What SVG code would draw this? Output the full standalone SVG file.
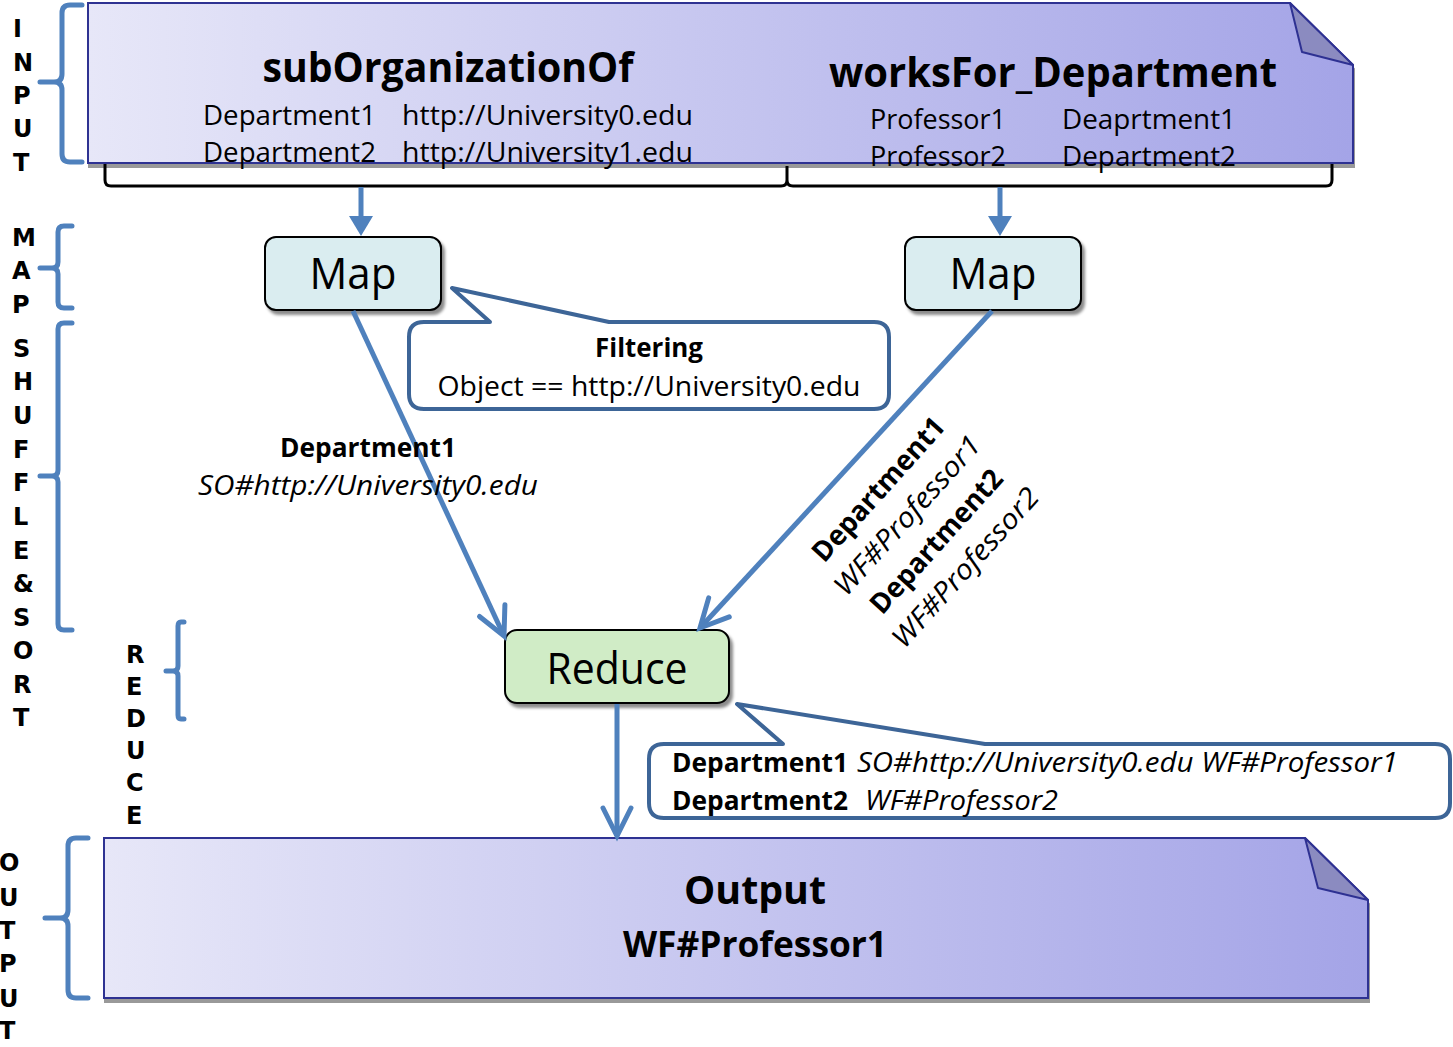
<svg xmlns="http://www.w3.org/2000/svg" width="1453" height="1047" viewBox="0 0 1453 1047">
  <defs>
    <linearGradient id="docFill" x1="0" y1="0" x2="1" y2="0">
      <stop offset="0" stop-color="#e7e7f8"/>
      <stop offset="1" stop-color="#a4a4e7"/>
    </linearGradient>
    <filter id="docShadow" x="-5%" y="-5%" width="110%" height="120%">
      <feDropShadow dx="1" dy="4" stdDeviation="0.6" flood-color="#808080" flood-opacity="0.8"/>
    </filter>
    <filter id="boxShadow" x="-10%" y="-10%" width="125%" height="130%">
      <feDropShadow dx="3" dy="4" stdDeviation="1.6" flood-color="#000" flood-opacity="0.45"/>
    </filter>
    <marker id="chevron" markerUnits="userSpaceOnUse" markerWidth="40" markerHeight="40" viewBox="-34 -20 40 40" refX="0" refY="0" orient="auto">
      <path d="M-28,-14 L0,0 L-28,14" fill="none" stroke="#4f81bd" stroke-width="5" stroke-linecap="round" stroke-linejoin="miter"/>
    </marker>
  </defs>
  <style>
    .doc { fill: url(#docFill); stroke: #2e3192; stroke-width: 2; }
    .fold { fill: #8b8bc0; stroke: #2e3192; stroke-width: 2; stroke-linejoin: round; }
    .box { stroke: #000; stroke-width: 2; }
    .brace { fill: none; stroke: #4f81bd; stroke-width: 5; stroke-linecap: round; stroke-linejoin: round; }
    .callout { fill: #fff; stroke: #3d6597; stroke-width: 4; stroke-linejoin: round; }
    .flow { fill: none; stroke: #4f81bd; stroke-width: 5; }
    .t { font-family: "Open Sans", "Noto Sans", sans-serif; fill: #000; }
    .b { font-weight: bold; }
    .i { font-style: italic; }
    .mid { text-anchor: middle; }
    .stage { font-family: "DejaVu Sans", sans-serif; font-weight: bold; font-size: 24px; fill: #000; }
  </style>

  <!-- stage labels on the left -->
  <g id="stage-input">
    <path class="brace" d="M82,5 L70,5 Q62,5 62,13 L62,74 Q62,82 54,82 L40,82 M54,82 Q62,82 62,90 L62,154 Q62,162 70,162 L82,162"/>
    <text class="stage" x="13" y="37">I</text>
    <text class="stage" x="13" y="71">N</text>
    <text class="stage" x="13" y="104">P</text>
    <text class="stage" x="13" y="137">U</text>
    <text class="stage" x="13" y="171">T</text>
  </g>
  <g id="stage-map">
    <path class="brace" d="M72,226 L64,226 Q58,226 58,232 L58,262 Q58,268 52,268 L40,268 M52,268 Q58,268 58,274 L58,302 Q58,308 64,308 L72,308"/>
    <text class="stage" x="12" y="246">M</text>
    <text class="stage" x="12" y="279">A</text>
    <text class="stage" x="12" y="313">P</text>
  </g>
  <g id="stage-shuffle">
    <path class="brace" d="M72,323 L64,323 Q58,323 58,329 L58,470 Q58,476 52,476 L40,476 M52,476 Q58,476 58,482 L58,624 Q58,630 64,630 L72,630"/>
    <text class="stage" x="13" y="357">S</text>
    <text class="stage" x="13" y="390">H</text>
    <text class="stage" x="13" y="424">U</text>
    <text class="stage" x="13" y="458">F</text>
    <text class="stage" x="13" y="491">F</text>
    <text class="stage" x="13" y="525">L</text>
    <text class="stage" x="13" y="559">E</text>
    <text class="stage" x="13" y="592">&amp;</text>
    <text class="stage" x="13" y="626">S</text>
    <text class="stage" x="13" y="659">O</text>
    <text class="stage" x="13" y="693">R</text>
    <text class="stage" x="13" y="726">T</text>
  </g>
  <g id="stage-reduce">
    <path class="brace" d="M184,622 L181,622 Q178,622 178,626 L178,666 Q178,671 173,671 L166,671 M173,671 Q178,671 178,676 L178,715 Q178,719 181,719 L184,719"/>
    <text class="stage" x="126" y="663">R</text>
    <text class="stage" x="126" y="695">E</text>
    <text class="stage" x="126" y="727">D</text>
    <text class="stage" x="126" y="759">U</text>
    <text class="stage" x="126" y="791">C</text>
    <text class="stage" x="126" y="824">E</text>
  </g>
  <g id="stage-output">
    <path class="brace" d="M88,838 L76,838 Q68,838 68,846 L68,910 Q68,918 60,918 L45,918 M60,918 Q68,918 68,926 L68,990 Q68,998 76,998 L88,998"/>
    <text class="stage" x="-1" y="871">O</text>
    <text class="stage" x="-1" y="906">U</text>
    <text class="stage" x="-1" y="939">T</text>
    <text class="stage" x="-1" y="972">P</text>
    <text class="stage" x="-1" y="1007">U</text>
    <text class="stage" x="-1" y="1039">T</text>
  </g>

  <!-- input document -->
  <g id="input">
    <path class="doc" filter="url(#docShadow)" d="M88,3 L1290,3 L1353,65 L1353,163 L88,163 Z"/>
    <path class="fold" d="M1290,3 L1302,52 L1353,65 Z"/>
    <text class="t b mid" x="448" y="82" font-size="42" textLength="371" lengthAdjust="spacingAndGlyphs">subOrganizationOf</text>
    <text class="t" x="203" y="125" font-size="27" textLength="173" lengthAdjust="spacingAndGlyphs">Department1</text>
    <text class="t" x="402" y="125" font-size="27" textLength="291" lengthAdjust="spacingAndGlyphs">http://University0.edu</text>
    <text class="t" x="203" y="162" font-size="27" textLength="173" lengthAdjust="spacingAndGlyphs">Department2</text>
    <text class="t" x="402" y="162" font-size="27" textLength="291" lengthAdjust="spacingAndGlyphs">http://University1.edu</text>
    <text class="t b mid" x="1053" y="87" font-size="42" textLength="448" lengthAdjust="spacingAndGlyphs">worksFor_Department</text>
    <text class="t" x="870" y="129" font-size="27" textLength="136" lengthAdjust="spacingAndGlyphs">Professor1</text>
    <text class="t" x="1062" y="129" font-size="27" textLength="174" lengthAdjust="spacingAndGlyphs">Deaprtment1</text>
    <text class="t" x="870" y="166" font-size="27" textLength="136" lengthAdjust="spacingAndGlyphs">Professor2</text>
    <text class="t" x="1062" y="166" font-size="27" textLength="174" lengthAdjust="spacingAndGlyphs">Department2</text>
    <!-- split bracket grouping the two relations -->
    <path d="M105,164 L105,180 Q105,186 111,186 L781,186 Q787,186 787,180 L787,166 M787,180 Q787,186 793,186 L1326,186 Q1332,186 1332,180 L1332,164" fill="none" stroke="#000" stroke-width="3"/>
  </g>

  <!-- map tasks -->
  <g id="map-left">
    <rect class="box" x="265" y="237" width="176" height="73" rx="11" fill="#daedf0" filter="url(#boxShadow)"/>
    <text class="t mid" x="353" y="289" font-size="44" textLength="87" lengthAdjust="spacingAndGlyphs">Map</text>
  </g>
  <g id="map-right">
    <rect class="box" x="905" y="237" width="176" height="73" rx="11" fill="#daedf0" filter="url(#boxShadow)"/>
    <text class="t mid" x="993" y="289" font-size="44" textLength="87" lengthAdjust="spacingAndGlyphs">Map</text>
  </g>

  <!-- filtering note -->
  <g id="filter-note">
    <path class="callout" d="M424,322 L490,322 L452,288 L609,322 L874,322 Q889,322 889,337 L889,394 Q889,409 874,409 L424,409 Q409,409 409,394 L409,337 Q409,322 424,322 Z"/>
    <text class="t b mid" x="649" y="357" font-size="27" textLength="108" lengthAdjust="spacingAndGlyphs">Filtering</text>
    <text class="t mid" x="649" y="396" font-size="27" textLength="423" lengthAdjust="spacingAndGlyphs">Object == http://University0.edu</text>
  </g>

  <!-- reduce task -->
  <g id="reduce">
    <rect class="box" x="505" y="630" width="224" height="73" rx="12" fill="#d0ecc6" filter="url(#boxShadow)"/>
    <text class="t mid" x="617" y="684" font-size="44" textLength="141" lengthAdjust="spacingAndGlyphs">Reduce</text>
  </g>

  <!-- reduce result note -->
  <g id="reduce-note">
    <path class="callout" d="M664,744 L783,744 L737,704 L985,744 L1435,744 Q1450,744 1450,759 L1450,803 Q1450,818 1435,818 L664,818 Q649,818 649,803 L649,759 Q649,744 664,744 Z"/>
    <text class="t b" x="672" y="772" font-size="27" textLength="176" lengthAdjust="spacingAndGlyphs">Department1</text>
    <text class="t i" x="857" y="772" font-size="27" textLength="541" lengthAdjust="spacingAndGlyphs">SO#http://University0.edu WF#Professor1</text>
    <text class="t b" x="672" y="810" font-size="27" textLength="176" lengthAdjust="spacingAndGlyphs">Department2</text>
    <text class="t i" x="865" y="810" font-size="27" textLength="193" lengthAdjust="spacingAndGlyphs">WF#Professor2</text>
  </g>

  <!-- output document -->
  <g id="output">
    <path class="doc" filter="url(#docShadow)" d="M104,838 L1305,838 L1368,900 L1368,998 L104,998 Z"/>
    <path class="fold" d="M1305,838 L1318,888 L1368,900 Z"/>
    <text class="t b mid" x="755" y="904" font-size="40" textLength="142" lengthAdjust="spacingAndGlyphs">Output</text>
    <text class="t b mid" x="755" y="957" font-size="35" textLength="264" lengthAdjust="spacingAndGlyphs">WF#Professor1</text>
  </g>

  <!-- connectors -->
  <g id="connectors">
    <line class="flow" x1="361" y1="187" x2="361" y2="219"/>
    <polygon points="349,216 373,216 361,236" fill="#4f81bd"/>
    <line class="flow" x1="1000" y1="187" x2="1000" y2="219"/>
    <polygon points="988,216 1012,216 1000,236" fill="#4f81bd"/>
    <line class="flow" x1="353" y1="311" x2="504" y2="636" marker-end="url(#chevron)"/>
    <line class="flow" x1="992" y1="311" x2="700" y2="628" marker-end="url(#chevron)"/>
    <line class="flow" x1="617" y1="704" x2="617" y2="836" marker-end="url(#chevron)"/>
  </g>

  <!-- edge labels -->
  <g id="map-left-output">
    <text class="t b mid" x="368" y="457" font-size="27" textLength="176" lengthAdjust="spacingAndGlyphs">Department1</text>
    <text class="t i mid" x="368" y="495" font-size="27" textLength="340" lengthAdjust="spacingAndGlyphs">SO#http://University0.edu</text>
  </g>
  <g id="map-right-output" transform="translate(824,564) rotate(-48)">
    <text class="t b mid" x="92" y="0" font-size="28" textLength="183" lengthAdjust="spacingAndGlyphs">Department1</text>
    <text class="t i mid" x="92" y="39" font-size="28" textLength="204" lengthAdjust="spacingAndGlyphs">WF#Professor1</text>
    <text class="t b mid" x="92" y="78" font-size="28" textLength="183" lengthAdjust="spacingAndGlyphs">Department2</text>
    <text class="t i mid" x="92" y="117" font-size="28" textLength="204" lengthAdjust="spacingAndGlyphs">WF#Professor2</text>
  </g>
</svg>
